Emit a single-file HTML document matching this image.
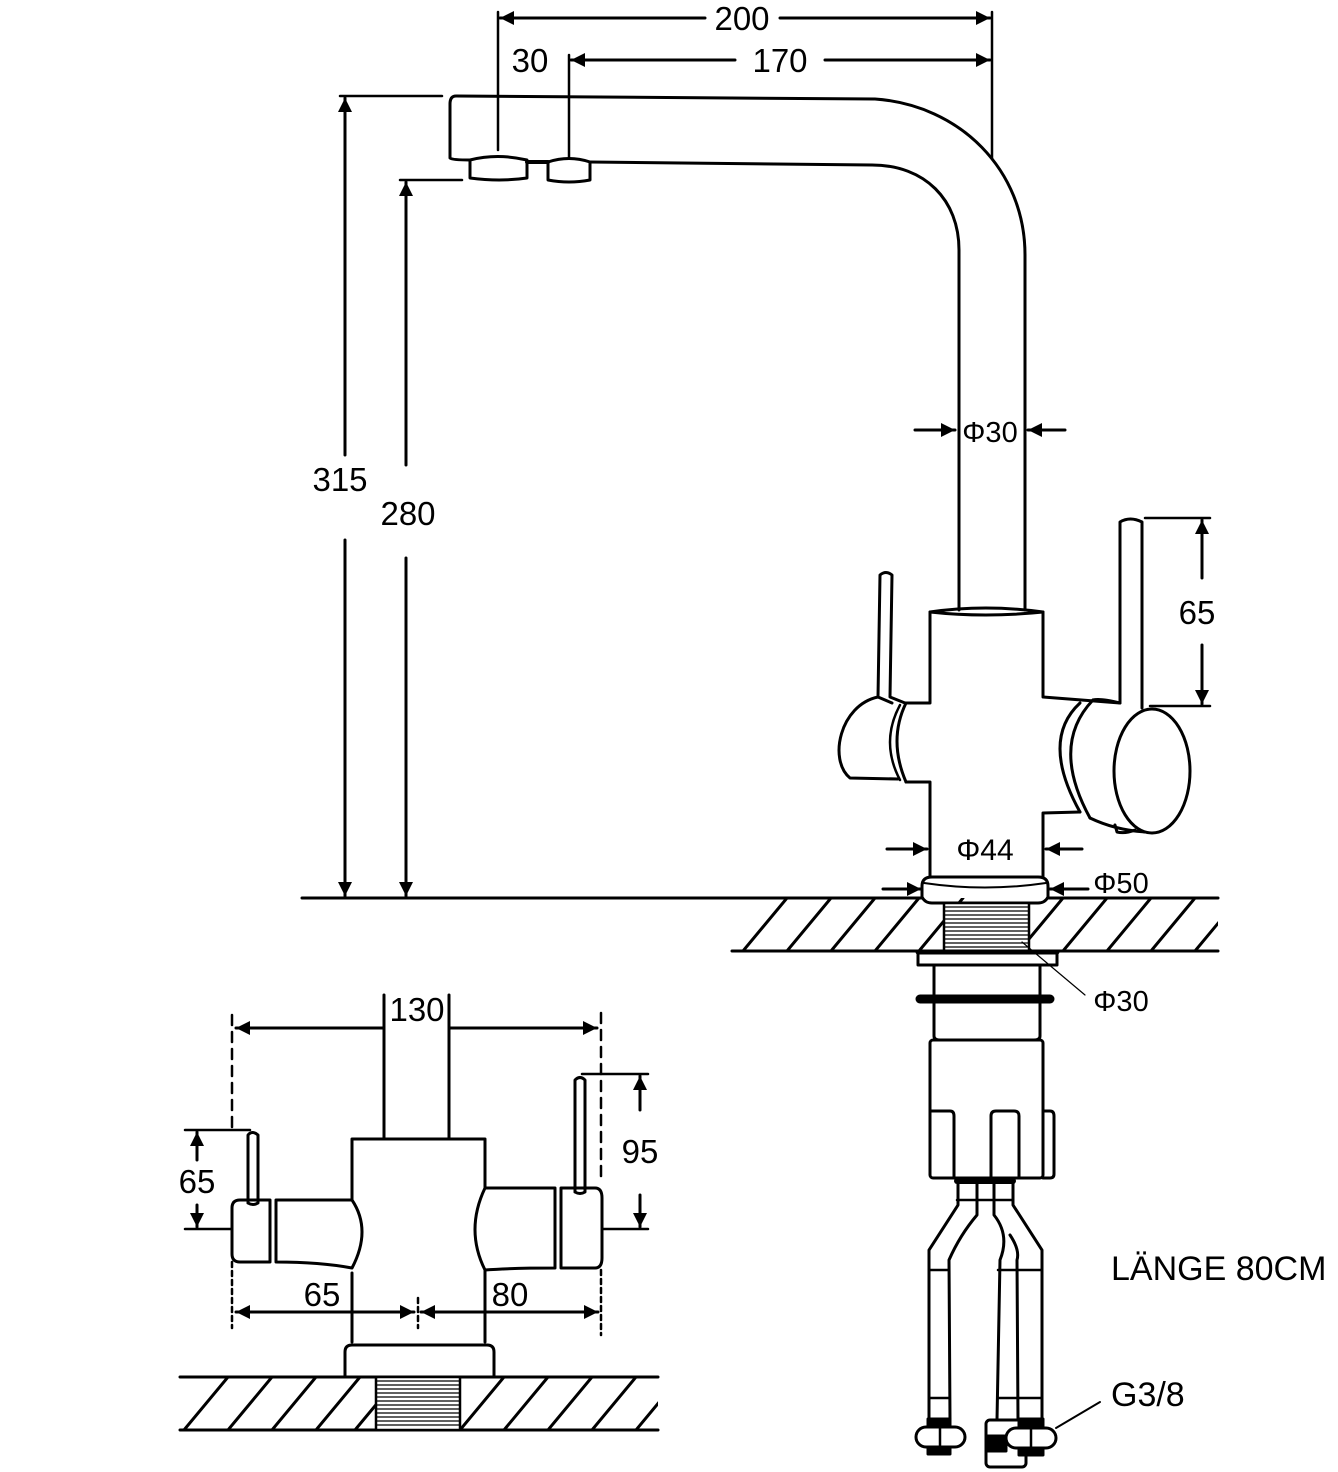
<!DOCTYPE html>
<html><head><meta charset="utf-8"><style>
html,body{margin:0;padding:0;background:#fff}
svg{display:block}
text{font-family:"Liberation Sans",Arial,sans-serif;fill:#000}
</style></head><body>
<svg width="1338" height="1472" viewBox="0 0 1338 1472" xmlns="http://www.w3.org/2000/svg">
<defs>
<marker id="ah" viewBox="0 0 10 10" refX="10" refY="5" markerWidth="24" markerHeight="14" orient="auto-start-reverse" markerUnits="userSpaceOnUse"><path d="M0,0L10,5L0,10z"/></marker>
<clipPath id="c1"><rect x="732" y="898" width="486" height="53"/></clipPath>
<clipPath id="c2"><rect x="180" y="1377" width="478" height="53"/></clipPath>
</defs>
<g fill="none" stroke="#000" stroke-width="3" stroke-linejoin="round" stroke-linecap="round">
<!-- top dims -->
<line x1="498" y1="12" x2="498" y2="150" stroke-width="2.5"/>
<line x1="992" y1="12" x2="992" y2="158" stroke-width="2.5"/>
<line x1="569" y1="55" x2="569" y2="158" stroke-width="2.5"/>
<line x1="500" y1="18" x2="705" y2="18" marker-start="url(#ah)"/>
<line x1="780" y1="18" x2="990" y2="18" marker-end="url(#ah)"/>
<line x1="571" y1="60" x2="735" y2="60" marker-start="url(#ah)"/>
<line x1="825" y1="60" x2="990" y2="60" marker-end="url(#ah)"/>
<!-- vertical dims -->
<line x1="340" y1="96" x2="442" y2="96" stroke-width="2.5"/>
<line x1="400" y1="180" x2="462" y2="180" stroke-width="2.5"/>
<line x1="345" y1="98" x2="345" y2="455" marker-start="url(#ah)"/>
<line x1="345" y1="540" x2="345" y2="896" marker-end="url(#ah)"/>
<line x1="406" y1="182" x2="406" y2="465" marker-start="url(#ah)"/>
<line x1="406" y1="558" x2="406" y2="896" marker-end="url(#ah)"/>
<!-- spout -->
<path d="M1025,610 L1025,255 C1025,170 960,105 875,99 L456,96 Q450,96 450,104 L450,158 Q452,160 470,160"/>
<path d="M959,610 L959,250 C959,200 925,165 872,165 L590,162"/>
<line x1="527" y1="162" x2="548" y2="162" stroke-width="4"/>
<path d="M470,160 Q497,153 527,160 L527,178 Q500,182 470,178 Z"/>
<path d="M548,162 Q569,155 590,162 L590,180 Q569,184 548,180 Z"/>
<!-- Φ30 spout -->
<line x1="915" y1="430" x2="955" y2="430" marker-end="url(#ah)"/>
<line x1="1065" y1="430" x2="1028" y2="430" marker-end="url(#ah)"/>
<!-- body -->
<path d="M930,612 Q985,604 1043,612 Q985,618 930,612 Z"/>
<path d="M930,612 L930,703 L906,703 M906,782 L930,782 L930,877"/>
<path d="M1043,612 L1043,697 L1120,703 M1043,877 L1043,813 L1080,812"/>
<!-- left knob -->
<path d="M906,703 Q888,740 906,782"/>
<path d="M900,705 Q880,742 900,780" stroke-width="2.5"/>
<path d="M892,703 L878,697 L880,575 Q886,570 892,575 L890,697 L905,703"/>
<path d="M878,697 C840,705 828,760 850,778 L898,779"/>
<!-- right knob -->
<path d="M1080,703 Q1040,740 1080,812"/>
<path d="M1093,700 Q1050,745 1090,818"/>
<path d="M1093,700 Q1100,698 1120,703 L1120,522 Q1130,516 1142,522 L1142,708"/>
<ellipse cx="1152" cy="771" rx="38" ry="62"/>
<path d="M1090,818 Q1115,830 1145,832"/>
<path d="M1115,825 L1117,832 Q1125,834 1135,830"/>
<!-- 65 right -->
<line x1="1145" y1="518" x2="1210" y2="518" stroke-width="2.5"/>
<line x1="1150" y1="706" x2="1210" y2="706" stroke-width="2.5"/>
<line x1="1202" y1="520" x2="1202" y2="578" marker-start="url(#ah)"/>
<line x1="1202" y1="645" x2="1202" y2="704" marker-end="url(#ah)"/>
<!-- Φ44 Φ50 -->
<line x1="887" y1="849" x2="927" y2="849" marker-end="url(#ah)"/>
<line x1="1082" y1="849" x2="1046" y2="849" marker-end="url(#ah)"/>
<line x1="883" y1="889" x2="921" y2="889" marker-end="url(#ah)"/>
<line x1="1088" y1="889" x2="1050" y2="889" marker-end="url(#ah)"/>
<!-- base ring -->
<path d="M922,886 Q922,877 932,877 L1038,877 Q1048,877 1048,886 L1048,897 Q1045,903 1038,903 L932,903 Q925,903 922,897 Z"/>
<path d="M924,883 Q985,892 1046,883" stroke-width="2"/>
<!-- counter right -->
<line x1="302" y1="898" x2="922" y2="898"/>
<line x1="1048" y1="898" x2="1218" y2="898"/>
<line x1="732" y1="951" x2="1218" y2="951"/>
<g clip-path="url(#c1)">
<path d="M743,951 L787,898 M787,951 L831,898 M831,951 L875,898 M875,951 L919,898 M919,951 L963,898 M1019,951 L1063,898 M1063,951 L1107,898 M1107,951 L1151,898 M1151,951 L1195,898 M1195,951 L1239,898"/>
</g>
<rect x="944" y="903" width="85" height="48" fill="#fff" stroke-width="2.5"/>
<g stroke-width="1.2"><path d="M944,907H1029M944,911H1029M944,915H1029M944,919H1029M944,923H1029M944,927H1029M944,931H1029M944,935H1029M944,939H1029M944,943H1029M944,947H1029"/></g>
<rect x="918" y="952" width="139" height="13" stroke-width="3"/>
<line x1="918" y1="952" x2="1057" y2="952" stroke-width="5"/>
<line x1="1022" y1="942" x2="1085" y2="995" stroke-width="1.2"/>
<path d="M934,965 L934,1036 Q934,1040 940,1040 L1034,1040 Q1040,1040 1040,1036 L1040,965"/>
<line x1="920" y1="999" x2="1050" y2="999" stroke-width="9"/>
<!-- lower box -->
<rect x="930" y="1040" width="113" height="138" rx="3"/>
<path d="M930,1111 L950,1111 Q954,1111 954,1116 L954,1178"/>
<path d="M991,1178 L991,1116 Q991,1111 996,1111 L1014,1111 Q1019,1111 1019,1116 L1019,1178"/>
<path d="M1043,1111 L1050,1111 Q1054,1111 1054,1116 L1054,1174 Q1054,1178 1050,1178 L1043,1178"/>
<!-- hoses -->
<line x1="957" y1="1181" x2="1013" y2="1181" stroke-width="6"/>
<line x1="957" y1="1200" x2="1013" y2="1200" stroke-width="2.5"/>
<path d="M958,1178 L958,1205 L929,1250 L929,1420"/>
<path d="M977,1178 L977,1215 Q960,1235 949,1260 L950,1420"/>
<path d="M994,1178 L994,1215 Q1010,1235 1000,1260 L997,1420"/>
<path d="M1013,1178 L1013,1205 L1042,1250 L1042,1420"/>
<path d="M1017,1260 Q1020,1250 1010,1235 M1017,1260 L1018,1420"/>
<line x1="929" y1="1270" x2="949" y2="1270" stroke-width="2.5"/>
<line x1="998" y1="1270" x2="1042" y2="1270" stroke-width="2.5"/>
<line x1="929" y1="1398" x2="949" y2="1398" stroke-width="2.5"/>
<line x1="998" y1="1398" x2="1042" y2="1398" stroke-width="2.5"/>
<!-- fittings -->
<rect x="928" y="1419" width="22" height="8" fill="#000"/>
<rect x="916" y="1427" width="49" height="20" rx="10" fill="#fff"/>
<line x1="940" y1="1427" x2="940" y2="1447" stroke-width="2.5"/>
<rect x="928" y="1447" width="22" height="7" fill="#000"/>
<rect x="986" y="1420" width="40" height="47" rx="4" fill="#fff"/>
<rect x="986" y="1436" width="20" height="15" fill="#000"/>
<rect x="1019" y="1419" width="24" height="8" fill="#000"/>
<rect x="1006" y="1428" width="50" height="20" rx="10" fill="#fff"/>
<line x1="1031" y1="1428" x2="1031" y2="1448" stroke-width="2.5"/>
<rect x="1019" y="1448" width="24" height="7" fill="#000"/>
<line x1="1056" y1="1428" x2="1100" y2="1402" stroke-width="2"/>

<!-- LEFT VIEW -->
<g stroke-dasharray="10,7" stroke-width="2.5">
<line x1="232" y1="1015" x2="232" y2="1130"/>
<line x1="601" y1="1013" x2="601" y2="1180"/>
</g>
<g stroke-dasharray="5,4" stroke-width="2.5">
<line x1="232" y1="1262" x2="232" y2="1328"/>
<line x1="601" y1="1270" x2="601" y2="1335"/>
<line x1="418" y1="1298" x2="418" y2="1328"/>
</g>
<line x1="236" y1="1028" x2="383" y2="1028" marker-start="url(#ah)"/>
<line x1="450" y1="1028" x2="597" y2="1028" marker-end="url(#ah)"/>
<line x1="384" y1="995" x2="384" y2="1139"/>
<line x1="449" y1="995" x2="449" y2="1139"/>
<path d="M352,1342 L352,1273 M352,1199 L352,1139 L485,1139 L485,1188 M485,1270 L485,1342"/>
<!-- left arm -->
<path d="M276,1200 L352,1200 Q372,1230 352,1268 Q320,1262 276,1262 Z"/>
<path d="M240,1200 L270,1200 L270,1262 L240,1262 Q232,1262 232,1254 L232,1208 Q232,1200 240,1200 Z"/>
<path d="M248,1203 L248,1135 Q252,1130 258,1135 L258,1203 Q253,1206 248,1203"/>
<!-- right arm -->
<path d="M555,1188 L485,1188 Q465,1230 485,1270 Q510,1268 555,1268 Z"/>
<path d="M561,1188 L595,1188 Q602,1188 602,1198 L602,1258 Q602,1268 595,1268 L561,1268 Z"/>
<path d="M575,1192 L575,1080 Q580,1075 585,1080 L585,1192 Q580,1195 575,1192"/>
<!-- 65 left -->
<line x1="185" y1="1130" x2="250" y2="1130" stroke-width="2.5"/>
<line x1="185" y1="1229" x2="232" y2="1229" stroke-width="2.5"/>
<line x1="197" y1="1132" x2="197" y2="1160" marker-start="url(#ah)"/>
<line x1="197" y1="1205" x2="197" y2="1227" marker-end="url(#ah)"/>
<!-- 95 -->
<line x1="582" y1="1074" x2="648" y2="1074" stroke-width="2.5"/>
<line x1="603" y1="1229" x2="648" y2="1229" stroke-width="2.5"/>
<line x1="640" y1="1076" x2="640" y2="1110" marker-start="url(#ah)"/>
<line x1="640" y1="1195" x2="640" y2="1227" marker-end="url(#ah)"/>
<!-- 65/80 -->
<line x1="236" y1="1312" x2="414" y2="1312" marker-start="url(#ah)" marker-end="url(#ah)"/>
<line x1="421" y1="1312" x2="598" y2="1312" marker-start="url(#ah)" marker-end="url(#ah)"/>
<!-- base -->
<path d="M345,1377 L345,1352 Q345,1345 352,1345 L487,1345 Q494,1345 494,1352 L494,1377"/>
<line x1="180" y1="1377" x2="658" y2="1377"/>
<line x1="180" y1="1430" x2="658" y2="1430"/>
<g clip-path="url(#c2)">
<path d="M184,1430 L228,1377 M228,1430 L272,1377 M272,1430 L316,1377 M316,1430 L360,1377 M355,1430 L399,1377 M460,1430 L504,1377 M504,1430 L548,1377 M548,1430 L592,1377 M592,1430 L636,1377 M636,1430 L680,1377"/>
</g>
<rect x="376" y="1377" width="84" height="53" fill="#fff" stroke-width="2.5"/>
<g stroke-width="1.2"><path d="M376,1381H460M376,1385H460M376,1389H460M376,1393H460M376,1397H460M376,1401H460M376,1405H460M376,1409H460M376,1413H460M376,1417H460M376,1421H460M376,1425H460"/></g>
</g>
<!-- texts -->
<g font-size="33" text-anchor="middle">
<text x="742" y="30">200</text>
<text x="530" y="72">30</text>
<text x="780" y="72">170</text>
<text x="340" y="491">315</text>
<text x="408" y="525">280</text>
<text x="990" y="442" font-size="29">Φ30</text>
<text x="1197" y="624">65</text>
<text x="985" y="860" font-size="30">Φ44</text>
<text x="1121" y="893" font-size="29">Φ50</text>
<text x="1121" y="1011" font-size="29">Φ30</text>
<text x="417" y="1021">130</text>
<text x="197" y="1193">65</text>
<text x="640" y="1163">95</text>
<text x="322" y="1306">65</text>
<text x="510" y="1306">80</text>
</g>
<text x="1111" y="1280" font-size="34">LÄNGE 80CM</text>
<text x="1111" y="1406" font-size="34">G3/8</text>
</svg>
</body></html>
